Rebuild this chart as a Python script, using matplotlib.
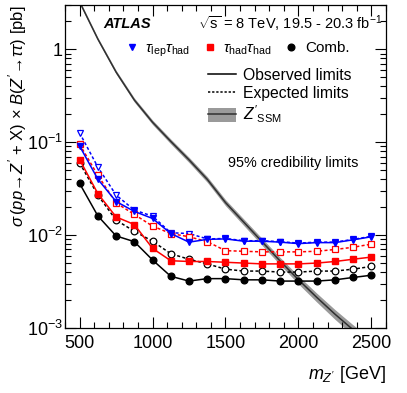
import matplotlib
matplotlib.use("Agg")
import numpy as np
import matplotlib.pyplot as plt
from matplotlib.lines import Line2D
from matplotlib.patches import Patch
from matplotlib.ticker import FixedLocator, FixedFormatter, MultipleLocator, LogLocator, NullFormatter

plt.rcParams["font.family"] = ["Liberation Sans", "DejaVu Sans"]
plt.rcParams["mathtext.fontset"] = "custom"
plt.rcParams["mathtext.rm"] = "Liberation Sans"
plt.rcParams["mathtext.it"] = "Liberation Sans:italic"
plt.rcParams["mathtext.bf"] = "Liberation Sans:bold"

# Z' mass points [GeV]
mass = np.array([500, 625, 750, 875, 1000, 1125, 1250, 1375, 1500,
                 1625, 1750, 1875, 2000, 2125, 2250, 2375, 2500])

# 95% CL limits on sigma x B [pb]
lephad_obs = np.array([0.091, 0.040, 0.023, 0.018, 0.0151, 0.0104, 0.0084, 0.0090, 0.0091,
                       0.0086, 0.0086, 0.0084, 0.0081, 0.0083, 0.0083, 0.0089, 0.0096])
lephad_exp = np.array([0.126, 0.054, 0.027, 0.0186, 0.016, 0.0106, 0.0104, 0.0091, 0.0092,
                       0.0087, 0.0087, 0.0085, 0.0082, 0.0084, 0.0084, 0.0090, 0.0097])
hadhad_obs = np.array([0.065, 0.028, 0.0157, 0.013, 0.0072, 0.0053, 0.0052, 0.0052, 0.0051,
                       0.0050, 0.0049, 0.0049, 0.0049, 0.0050, 0.0052, 0.0055, 0.0058])
hadhad_exp = np.array([0.095, 0.044, 0.0222, 0.0167, 0.0125, 0.0104, 0.0096, 0.0085, 0.0068,
                       0.0067, 0.0066, 0.0066, 0.0066, 0.0067, 0.0070, 0.0074, 0.0080])
comb_obs = np.array([0.036, 0.0161, 0.0098, 0.0085, 0.0054, 0.0036, 0.0032, 0.0034, 0.0034,
                     0.0033, 0.0033, 0.0032, 0.0032, 0.0032, 0.0033, 0.0035, 0.0037])
comb_exp = np.array([0.060, 0.027, 0.0145, 0.011, 0.0086, 0.0063, 0.0055, 0.0049, 0.0043,
                     0.0041, 0.0041, 0.0040, 0.0040, 0.0041, 0.0041, 0.0043, 0.0046])

# SSM theory cross section and relative band width
ssm = np.array([3.24, 1.29, 0.569, 0.285, 0.164, 0.102, 0.0646, 0.0398, 0.0224,
                0.0138, 0.00851, 0.00525, 0.00331, 0.00214, 0.00141, 0.000955, 0.00066])
ssm_unc = np.array([0.04, 0.04, 0.045, 0.05, 0.055, 0.06, 0.065, 0.07, 0.075,
                    0.08, 0.085, 0.09, 0.10, 0.11, 0.12, 0.13, 0.14])

y_ticks = [1e-3, 1e-2, 1e-1, 1]
y_labels = [r"$10^{-3}$", r"$10^{-2}$", r"$10^{-1}$", "1"]

W, H = 407, 393
fig = plt.figure(figsize=(W / 100, H / 100), dpi=100)
L, R, T, B = 65, 386, 5, 328
ax = fig.add_axes([L / W, (H - B) / H, (R - L) / W, (B - T) / H])


def px(x, y):
    # pixel position -> axes fraction
    return (x - L) / (R - L), (B - y) / (B - T)


ax.fill_between(mass, ssm * (1 - ssm_unc), ssm * (1 + ssm_unc), color="#9a9a9a", lw=0, zorder=1)
ax.plot(mass, ssm, color="#303030", lw=1.1, zorder=2)

dash = (0, (2, 1.5))
series = [
    (lephad_exp, lephad_obs, "blue", "v"),
    (hadhad_exp, hadhad_obs, "red", "s"),
    (comb_exp, comb_obs, "black", "o"),
]
for exp, obs, col, mk in series:
    ax.plot(mass, exp, ls=dash, color=col, lw=1.1, marker=mk, ms=4.8,
            mfc="white", mec=col, mew=0.9, zorder=3)
for exp, obs, col, mk in series:
    ax.plot(mass, obs, ls="-", color=col, lw=1.1, marker=mk, ms=4.8,
            mfc=col, mec=col, zorder=4)

ax.set_yscale("log")
ax.set_xlim(400, 2600)
ax.set_ylim(1e-3, 3)
ax.xaxis.set_major_locator(MultipleLocator(500))
ax.xaxis.set_minor_locator(MultipleLocator(100))
ax.yaxis.set_major_locator(FixedLocator(y_ticks))
ax.yaxis.set_major_formatter(FixedFormatter(y_labels))
ax.yaxis.set_minor_locator(LogLocator(subs=np.arange(2, 10)))
ax.yaxis.set_minor_formatter(NullFormatter())
ax.tick_params(which="both", direction="in", top=True, right=True, labelsize=13, width=0.8)
ax.tick_params(which="major", length=8)
ax.tick_params(axis="x", which="major", pad=5)
ax.tick_params(axis="y", which="major", pad=1.5)
ax.tick_params(which="minor", length=4)
for s in ax.spines.values():
    s.set_linewidth(0.9)

ax.set_xlabel(r"$m_{Z'}$ [GeV]", fontsize=13, loc="right", labelpad=9)
ax.set_ylabel(r"$\sigma\,(pp\!\rightarrow\! Z'$ + X) $\times$ $B(Z'\!\rightarrow\!\tau\tau)$ [pb]",
              fontsize=12, loc="top")
ax.yaxis.set_label_coords(-0.112, 1.0)

ax.text(*px(103, 24), "ATLAS", transform=ax.transAxes, fontsize=10.5,
        fontweight="bold", fontstyle="italic", va="center")
ax.text(*px(198, 24), r"$\sqrt{\mathrm{s}}$ = 8 TeV, 19.5 - 20.3 fb$^{-1}$",
        transform=ax.transAxes, fontsize=10.5, va="center")
ax.text(*px(228, 163), "95% credibility limits", transform=ax.transAxes,
        fontsize=10.4, va="center")

h1 = [Line2D([], [], ls="none", marker="v", color="blue", ms=4.8),
      Line2D([], [], ls="none", marker="s", color="red", ms=4.8),
      Line2D([], [], ls="none", marker="o", color="black", ms=4.8)]
l1 = [r"$\tau_{\mathrm{lep}}\tau_{\mathrm{had}}$", r"$\tau_{\mathrm{had}}\tau_{\mathrm{had}}$", "Comb."]
leg1 = ax.legend(h1, l1, ncol=3, loc="center left", bbox_to_anchor=px(124, 50),
                 frameon=False, fontsize=11, borderpad=0, borderaxespad=0,
                 handlelength=1.0, handletextpad=0.4, columnspacing=0.75)
ax.add_artist(leg1)

h2 = [Line2D([], [], color="black", lw=1.1),
      Line2D([], [], color="black", lw=1.1, ls=(0, (1.5, 1.2))),
      (Patch(color="#9a9a9a", lw=0), Line2D([], [], color="#303030", lw=1.1))]
l2 = ["Observed limits", "Expected limits", r"$Z'_{\mathrm{SSM}}$"]
ax.legend(h2, l2, loc="upper left", bbox_to_anchor=px(208, 68), frameon=False,
          fontsize=11.3, borderpad=0, borderaxespad=0, handlelength=1.8,
          handleheight=1.0, handletextpad=0.45, labelspacing=0.15)

fig.savefig("out.png", dpi=100)
